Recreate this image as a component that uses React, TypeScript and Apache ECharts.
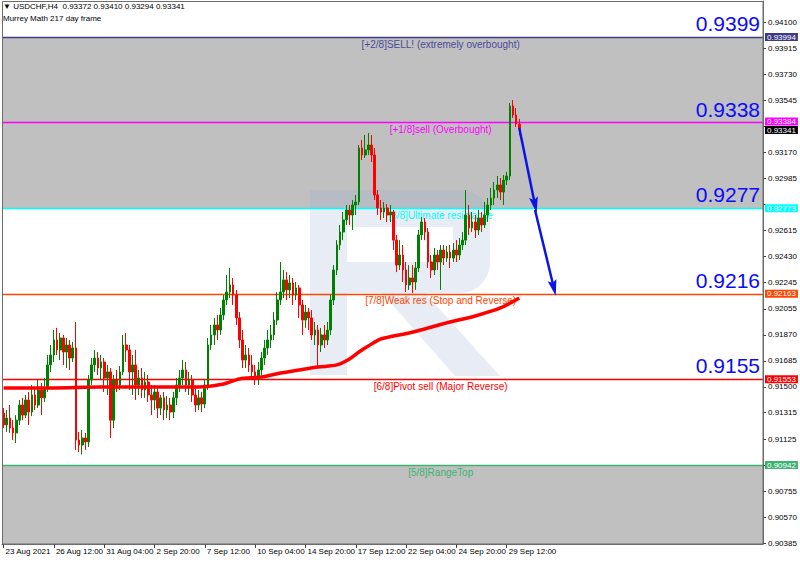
import React, { useEffect, useRef } from "react";
import * as echarts from "echarts";

// ---------- data ----------
const HEADER_LINE_1 = "▼ USDCHF,H4  0.93372 0.93410 0.93294 0.93341";
const HEADER_LINE_2 = "Murrey Math 217 day frame";

const TIME_LABELS = [
  "23 Aug 2021", "26 Aug 12:00", "31 Aug 04:00", "2 Sep 20:00", "7 Sep 12:00",
  "10 Sep 04:00", "14 Sep 20:00", "17 Sep 12:00", "22 Sep 04:00", "24 Sep 20:00", "29 Sep 12:00",
];
const BARS_PER_LABEL = 16;
const SLOT_COUNT = 242; // bar slots visible across the chart window

const Y_MIN = 0.90379;
const Y_MAX = 0.94251;
// tick marks (some of their labels are hidden under the level tags)
const Y_TICKS = [
  0.941, 0.93915, 0.9373, 0.93545, 0.9336, 0.9317, 0.92985, 0.928, 0.92615, 0.9243, 0.92245,
  0.92055, 0.9187, 0.91685, 0.915, 0.91315, 0.91125, 0.9094, 0.90755, 0.9057, 0.90385,
];
const Y_TICK_LABELS = [
  0.941, 0.93915, 0.9373, 0.93545, 0.9317, 0.92985, 0.92615, 0.9243, 0.92245,
  0.92055, 0.9187, 0.91685, 0.915, 0.91315, 0.91125, 0.90755, 0.9057, 0.90385,
];

// [open, close, low, high]
const CANDLES = [
  [0.91313, 0.91228, 0.91206, 0.91349], [0.91228, 0.91277, 0.91178, 0.91335], [0.91277, 0.91206, 0.91171, 0.9137],
  [0.91206, 0.91171, 0.9112, 0.91262], [0.91171, 0.91262, 0.91099, 0.91298], [0.91262, 0.9137, 0.91228, 0.91406],
  [0.9137, 0.91298, 0.91262, 0.91421], [0.91298, 0.91406, 0.91277, 0.91442], [0.91406, 0.9132, 0.91228, 0.91463],
  [0.9132, 0.91442, 0.91291, 0.91513], [0.91442, 0.9137, 0.91335, 0.91492], [0.9137, 0.91477, 0.91348, 0.91549],
  [0.91477, 0.91421, 0.91298, 0.91527], [0.91421, 0.91492, 0.91392, 0.91563], [0.91492, 0.91656, 0.91463, 0.91727],
  [0.91656, 0.91727, 0.91606, 0.91798], [0.91727, 0.91834, 0.91677, 0.91905], [0.91834, 0.91763, 0.91727, 0.9192],
  [0.91763, 0.91848, 0.91691, 0.91884], [0.91848, 0.91748, 0.91656, 0.9187], [0.91748, 0.91798, 0.91634, 0.91848],
  [0.91798, 0.91705, 0.9162, 0.91834], [0.91705, 0.91777, 0.91677, 0.9182], [0.91777, 0.9112, 0.9105, 0.91962],
  [0.9112, 0.91085, 0.91035, 0.91178], [0.91085, 0.91135, 0.91017, 0.91192], [0.91135, 0.91107, 0.9105, 0.91171],
  [0.91107, 0.91549, 0.91071, 0.91584], [0.91549, 0.91656, 0.91513, 0.91705], [0.91656, 0.91705, 0.91606, 0.91763],
  [0.91705, 0.91634, 0.91584, 0.91748], [0.91634, 0.91677, 0.91549, 0.91727], [0.91677, 0.91563, 0.91463, 0.91705],
  [0.91563, 0.91606, 0.91442, 0.91656], [0.91606, 0.91262, 0.91135, 0.91634], [0.91262, 0.91549, 0.91206, 0.91584],
  [0.91549, 0.91513, 0.91463, 0.9162], [0.91513, 0.91606, 0.91477, 0.91648], [0.91606, 0.91798, 0.91584, 0.9187],
  [0.91798, 0.91763, 0.91677, 0.91884], [0.91763, 0.91606, 0.91477, 0.91798], [0.91606, 0.91656, 0.91442, 0.91727],
  [0.91656, 0.91513, 0.91406, 0.91763], [0.91513, 0.91563, 0.91442, 0.9162], [0.91563, 0.91477, 0.91421, 0.91634],
  [0.91477, 0.91534, 0.91421, 0.91606], [0.91534, 0.91442, 0.91392, 0.91584], [0.91442, 0.91406, 0.91298, 0.91513],
  [0.91406, 0.91463, 0.91335, 0.91513], [0.91463, 0.91348, 0.91277, 0.91492], [0.91348, 0.91421, 0.91298, 0.91442],
  [0.91421, 0.91335, 0.91262, 0.91463], [0.91335, 0.9137, 0.91277, 0.91435], [0.9137, 0.9132, 0.91262, 0.91421],
  [0.9132, 0.91421, 0.91277, 0.91463], [0.91421, 0.91513, 0.9137, 0.91563], [0.91513, 0.91563, 0.91463, 0.9162],
  [0.91563, 0.9162, 0.91513, 0.91691], [0.9162, 0.91513, 0.91463, 0.91677], [0.91513, 0.91549, 0.91442, 0.91606],
  [0.91549, 0.91442, 0.91392, 0.91584], [0.91442, 0.9137, 0.9132, 0.91492], [0.9137, 0.91421, 0.91335, 0.91477],
  [0.91421, 0.91377, 0.9132, 0.91463], [0.91377, 0.91513, 0.91348, 0.91549], [0.91513, 0.91798, 0.91477, 0.91848],
  [0.91798, 0.9187, 0.91763, 0.91941], [0.9187, 0.91941, 0.91798, 0.91991], [0.91941, 0.91905, 0.91834, 0.92012],
  [0.91905, 0.92012, 0.9187, 0.92062], [0.92012, 0.92119, 0.91976, 0.92155], [0.92119, 0.92176, 0.92083, 0.92297],
  [0.92176, 0.92226, 0.92133, 0.92347], [0.92226, 0.92155, 0.92083, 0.92276], [0.92155, 0.91991, 0.91941, 0.92191],
  [0.91991, 0.91834, 0.91777, 0.92033], [0.91834, 0.91691, 0.91634, 0.91905], [0.91691, 0.91727, 0.91634, 0.91798],
  [0.91727, 0.91656, 0.91606, 0.91777], [0.91656, 0.91606, 0.91549, 0.91727], [0.91606, 0.91563, 0.91513, 0.91656],
  [0.91563, 0.9162, 0.91513, 0.91677], [0.9162, 0.91705, 0.91584, 0.91748], [0.91705, 0.91777, 0.91656, 0.91834],
  [0.91777, 0.91834, 0.91727, 0.91905], [0.91834, 0.9187, 0.91777, 0.91941], [0.9187, 0.91976, 0.91834, 0.92033],
  [0.91976, 0.92119, 0.91941, 0.92176], [0.92119, 0.92176, 0.92083, 0.9239], [0.92176, 0.92262, 0.92133, 0.92333],
  [0.92262, 0.92191, 0.92119, 0.92318], [0.92191, 0.9224, 0.92133, 0.92297], [0.9224, 0.92155, 0.92083, 0.92276],
  [0.92155, 0.92205, 0.92119, 0.92247], [0.92205, 0.92083, 0.91991, 0.92226], [0.92083, 0.91976, 0.9187, 0.92119],
  [0.91976, 0.92033, 0.9192, 0.92083], [0.92033, 0.91991, 0.91905, 0.92062], [0.91991, 0.9187, 0.91834, 0.92047],
  [0.9187, 0.91905, 0.91798, 0.91962], [0.91905, 0.91798, 0.91634, 0.91941], [0.91798, 0.9187, 0.91748, 0.9192],
  [0.9187, 0.91834, 0.91777, 0.91941], [0.91834, 0.91905, 0.91798, 0.91962], [0.91905, 0.92119, 0.9187, 0.92155],
  [0.92119, 0.92333, 0.92083, 0.92368], [0.92333, 0.92511, 0.92297, 0.92546], [0.92511, 0.92604, 0.92475, 0.92654],
  [0.92604, 0.9269, 0.92546, 0.92746], [0.9269, 0.92761, 0.92654, 0.92796], [0.92761, 0.92725, 0.92654, 0.92796],
  [0.92725, 0.92796, 0.92618, 0.92832], [0.92796, 0.92818, 0.92725, 0.92868], [0.92818, 0.93203, 0.92796, 0.93224],
  [0.93203, 0.93153, 0.93117, 0.9326], [0.93153, 0.93189, 0.93132, 0.93295], [0.93189, 0.93224, 0.93153, 0.9331],
  [0.93224, 0.93153, 0.93103, 0.93295], [0.93153, 0.92868, 0.92832, 0.93203], [0.92868, 0.92775, 0.92725, 0.92903],
  [0.92775, 0.92746, 0.9269, 0.92832], [0.92746, 0.92775, 0.92704, 0.92818], [0.92775, 0.92725, 0.92675, 0.92803],
  [0.92725, 0.92746, 0.92675, 0.92796], [0.92746, 0.92546, 0.92475, 0.92761], [0.92546, 0.92368, 0.92318, 0.92583],
  [0.92368, 0.9244, 0.92333, 0.92546], [0.9244, 0.92333, 0.92247, 0.92511], [0.92333, 0.92226, 0.92176, 0.9239],
  [0.92226, 0.92276, 0.92191, 0.92368], [0.92276, 0.92247, 0.92169, 0.92368], [0.92247, 0.92347, 0.92191, 0.9239],
  [0.92347, 0.92583, 0.92318, 0.92618], [0.92583, 0.92675, 0.92546, 0.92711], [0.92675, 0.92604, 0.92546, 0.92704],
  [0.92604, 0.9239, 0.92347, 0.92632], [0.9239, 0.92333, 0.92276, 0.9244], [0.92333, 0.9244, 0.92297, 0.9249],
  [0.9244, 0.9239, 0.92333, 0.92475], [0.9239, 0.92475, 0.92191, 0.92511], [0.92475, 0.92418, 0.92368, 0.92511],
  [0.92418, 0.92461, 0.9239, 0.92504], [0.92461, 0.92418, 0.92347, 0.92511], [0.92418, 0.92475, 0.9239, 0.92525],
  [0.92475, 0.9244, 0.9239, 0.92546], [0.9244, 0.92511, 0.92404, 0.92561], [0.92511, 0.92546, 0.92475, 0.92604],
  [0.92546, 0.92725, 0.92511, 0.92903], [0.92725, 0.92632, 0.92583, 0.92796], [0.92632, 0.92675, 0.92604, 0.92746],
  [0.92675, 0.92618, 0.92561, 0.92725], [0.92618, 0.92704, 0.92583, 0.92761], [0.92704, 0.92654, 0.92604, 0.92746],
  [0.92654, 0.92725, 0.92632, 0.92818], [0.92725, 0.92796, 0.92675, 0.92846], [0.92796, 0.92846, 0.92761, 0.92918],
  [0.92846, 0.92903, 0.92796, 0.9296], [0.92903, 0.92939, 0.92846, 0.93003], [0.92939, 0.92889, 0.92832, 0.92989],
  [0.92889, 0.92974, 0.92796, 0.9301], [0.92974, 0.93003, 0.92939, 0.93032], [0.93003, 0.93502, 0.92974, 0.93524],
  [0.93502, 0.93438, 0.93417, 0.93545], [0.93438, 0.93374, 0.93353, 0.93488], [0.93372, 0.93341, 0.93294, 0.9341],
];

// Moving average (217) read at bar indices: [barIndex, value]
const MA_POINTS = [
  [0, 0.91492], [15, 0.91492], [31, 0.91499], [47, 0.91499], [62, 0.91499], [70, 0.9152],
  [75, 0.91556], [82, 0.9157], [88, 0.91598], [94, 0.9162], [100, 0.91641], [106, 0.91656],
  [110, 0.91698], [113, 0.91748], [116, 0.91791], [120, 0.91841], [124, 0.91862], [129, 0.91884],
  [135, 0.91919], [142, 0.91962], [150, 0.92005], [158, 0.92062], [164, 0.92133],
];

const LEVEL_VALUES = [0.93994, 0.93384, 0.92773, 0.92163, 0.91553, 0.90942];
const LEVEL_NAMES = [
  "[+2/8]SELL! (extremely overbought)",
  "[+1/8]sell (Overbought)",
  "[8/8]Ultimate resistance",
  "[7/8]Weak res (Stop and Reverse)",
  "[6/8]Pivot sell (Major Reverse)",
  "[5/8]RangeTop",
];
const LEVEL_BIG_LABELS = ["0.9399", "0.9338", "0.9277", "0.9216", "0.9155", ""];
const LEVEL_COLORS = ["#3f3a86", "#ff00ff", "#00ffff", "#ff4500", "#ff0000", "#3cb371"];
const LEVEL_TEXT_COLORS = ["#4b4b9b", "#ff00ff", "#00ffff", "#ff4500", "#ff0000", "#3cb371"];
const LEVEL_TEXT_SPAN = [118, 160]; // bar indices between which the level caption is centred

const CURRENT_PRICE = 0.93341;

// Hand-drawn arrows: [fromIndex, fromValue, toIndex, toValue]
const ARROWS = [
  [164, 0.93345, 169, 0.92796],
  [169, 0.92761, 175, 0.92205],
];

const BAND_RANGES = [
  [0.93994, 0.92773],
  [0.90942, Y_MIN],
];

// ---------- chart ----------
const FONT = "'Liberation Sans', Arial, sans-serif";
const HIDDEN_LINE = { width: 0, color: "rgba(0,0,0,0)", type: "solid" };
// narrow arrow head: padded into a square box so it is not stretched sideways
const ARROW_HEAD = "path://M0,0 L0.01,0 Z M16,16 L15.99,16 Z M8,0 L12.5,16 L8,13 L3.5,16 Z";

function tagLabel(text: string, bg: string, offsetY = 0) {
  return {
    show: true,
    position: "end",
    distance: 2,
    formatter: text,
    backgroundColor: bg,
    color: "#ffffff",
    fontSize: 8,
    lineHeight: 8,
    fontFamily: FONT,
    padding: [0, 2, 0, 2],
    offset: [0, offsetY],
  };
}

function buildOption() {
  const categories = Array.from({ length: SLOT_COUNT }, (_, i) => String(i));
  const labelInterval = (index: number) =>
    index % BARS_PER_LABEL === 0 && index / BARS_PER_LABEL < TIME_LABELS.length;

  const levelLines: any[] = [];
  const levelTexts: any[] = [];
  LEVEL_VALUES.forEach((v, k) => {
    const color = LEVEL_COLORS[k];
    levelLines.push({
      yAxis: v,
      lineStyle: { color, width: 1.4, type: "solid" },
      label: tagLabel(v.toFixed(5), color, k === 1 ? -1 : 0),
    });
    if (LEVEL_BIG_LABELS[k]) {
      levelTexts.push({
        yAxis: v,
        lineStyle: HIDDEN_LINE,
        label: {
          show: true,
          position: "insideEndTop",
          distance: 3,
          formatter: LEVEL_BIG_LABELS[k],
          color: "#0a0aff",
          fontSize: 21,
          fontFamily: FONT,
        },
      });
    }
    levelTexts.push([
      {
        coord: [LEVEL_TEXT_SPAN[0], v],
        lineStyle: HIDDEN_LINE,
        label: {
          show: true,
          position: "insideMiddleBottom",
          distance: 2,
          formatter: LEVEL_NAMES[k],
          color: LEVEL_TEXT_COLORS[k],
          fontSize: 10,
          fontFamily: FONT,
        },
      },
      { coord: [LEVEL_TEXT_SPAN[1], v] },
    ]);
  });
  levelLines.push({
    yAxis: CURRENT_PRICE,
    lineStyle: HIDDEN_LINE,
    label: tagLabel(CURRENT_PRICE.toFixed(5), "#000000", 1.5),
  });

  const logoFill = "rgba(150,175,210,0.22)";
  const logo = [
    { type: "rect", shape: { x: 310, y: 190, width: 37, height: 185 } },
    { type: "rect", shape: { x: 347, y: 190, width: 106, height: 37 } },
    { type: "rect", shape: { x: 453, y: 190, width: 37, height: 103, r: [0, 30, 30, 0] } },
    { type: "rect", shape: { x: 347, y: 262, width: 106, height: 31 } },
    { type: "polygon", shape: { points: [[382, 293], [425, 293], [500, 376], [455, 376]] } },
  ].map((e) => ({ ...e, z: 1, silent: true, style: { fill: logoFill } }));

  return {
    animation: false,
    backgroundColor: "#ffffff",
    textStyle: { fontFamily: FONT },
    grid: { left: 2, right: 37, top: 1, bottom: 19, show: false },
    xAxis: {
      type: "category",
      data: categories,
      boundaryGap: true,
      axisLine: { show: true, lineStyle: { color: "#6d6d6d", width: 1 } },
      axisTick: {
        show: true,
        alignWithLabel: true,
        interval: labelInterval,
        length: 4,
        lineStyle: { color: "#404040" },
      },
      axisLabel: {
        interval: labelInterval,
        formatter: (value: string) => {
          const i = Number(value) / BARS_PER_LABEL;
          return TIME_LABELS[i] ?? "";
        },
        align: "left",
        margin: 3,
        padding: [0, 0, 0, 2],
        fontSize: 8,
        color: "#000000",
        fontFamily: FONT,
      },
      splitLine: { show: false },
    },
    yAxis: {
      type: "value",
      position: "right",
      min: Y_MIN,
      max: Y_MAX,
      axisLine: { show: true, lineStyle: { color: "#6d6d6d", width: 1 } },
      axisTick: { show: true, length: 3, customValues: Y_TICKS, lineStyle: { color: "#404040" } },
      axisLabel: {
        customValues: Y_TICK_LABELS,
        formatter: (v: number) => v.toFixed(5),
        fontSize: 8,
        margin: 5,
        color: "#000000",
        fontFamily: FONT,
      },
      splitLine: { show: false },
    },
    graphic: [
      ...logo,
      {
        type: "text",
        left: 3,
        top: 2,
        z: 10,
        style: { text: HEADER_LINE_1, fontSize: 8, fill: "#000000", fontFamily: FONT },
      },
      {
        type: "text",
        left: 3,
        top: 14,
        z: 10,
        style: { text: HEADER_LINE_2, fontSize: 8, fill: "#000000", fontFamily: FONT },
      },
      {
        type: "rect",
        z: 10,
        silent: true,
        shape: { x: 2.5, y: 1.5, width: 760.5, height: 542.5 },
        style: { fill: "none", stroke: "#6d6d6d", lineWidth: 1 },
      },
    ],
    series: [
      {
        name: "bands",
        type: "line",
        data: [],
        z: 0,
        markArea: {
          silent: true,
          z: 0,
          itemStyle: { color: "#c0c0c0" },
          data: BAND_RANGES.map(([a, b]) => [{ yAxis: a }, { yAxis: b }]),
        },
      },
      {
        name: "levels",
        type: "line",
        data: [],
        z: 1,
        markLine: {
          silent: true,
          z: 1,
          precision: 5,
          symbol: "none",
          data: levelLines,
        },
      },
      {
        name: "levelTexts",
        type: "line",
        data: [],
        z: 1,
        markLine: {
          silent: true,
          z: 1,
          precision: 5,
          symbol: "none",
          data: levelTexts,
        },
      },
      {
        name: "USDCHF",
        type: "candlestick",
        data: CANDLES,
        z: 2,
        barWidth: 2.2,
        itemStyle: {
          color: "#008000",
          color0: "#ff0000",
          borderColor: "#008000",
          borderColor0: "#ff0000",
          borderWidth: 1,
        },
      },
      {
        name: "MA217",
        type: "line",
        data: MA_POINTS,
        z: 3,
        smooth: 0.3,
        showSymbol: false,
        lineStyle: { color: "#ff0000", width: 3.5 },
      },
      {
        name: "arrows",
        type: "line",
        data: [],
        z: 4,
        markLine: {
          silent: true,
          z: 4,
          precision: 5,
          symbol: ["none", ARROW_HEAD],
          symbolSize: 16,
          lineStyle: { color: "#0a14e6", width: 2.5, type: "solid" },
          itemStyle: { color: "#0a14e6" },
          label: { show: false },
          data: ARROWS.map(([i0, v0, i1, v1]) => [{ coord: [i0, v0] }, { coord: [i1, v1] }]),
        },
      },
    ],
  };
}

export default function App() {
  const ref = useRef<HTMLDivElement>(null);
  useEffect(() => {
    if (!ref.current) return;
    const chart = echarts.init(ref.current, undefined, { renderer: "svg" });
    chart.setOption(buildOption() as any);
    return () => chart.dispose();
  }, []);
  return (
    <div
      ref={ref}
      style={{ position: "absolute", left: 0, top: 0, width: 800, height: 563, background: "#ffffff" }}
    />
  );
}
